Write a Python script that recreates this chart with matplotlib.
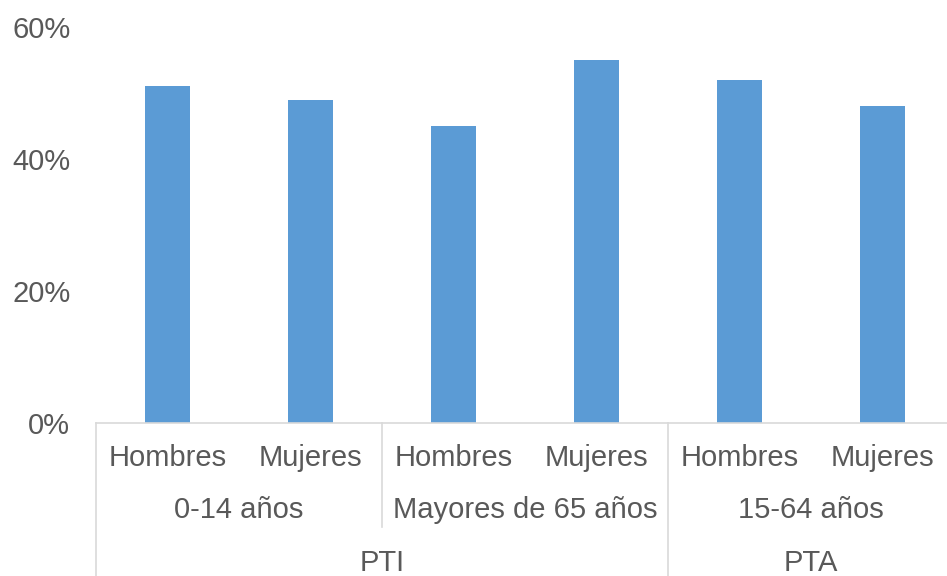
import matplotlib
matplotlib.use("Agg")
import matplotlib.pyplot as plt
from matplotlib.lines import Line2D
from matplotlib.ticker import FuncFormatter

sexes = ["Hombres", "Mujeres", "Hombres", "Mujeres", "Hombres", "Mujeres"]
age_groups = ["0-14 años", "Mayores de 65 años", "15-64 años"]
ratio_groups = ["PTI", "PTA"]
values = [51, 49, 45, 55, 52, 48]
y_ticks = [0, 20, 40, 60]

plt.rcParams["font.family"] = ["Liberation Sans", "DejaVu Sans"]
txt = "#595959"
grid = "#d9d9d9"
fs = 21

W, H = 947, 576
fig = plt.figure(figsize=(W / 100, H / 100), dpi=100)
x0, x1, yb, yt = 96, 954, 423, 27
ax = fig.add_axes([x0 / W, (H - yb) / H, (x1 - x0) / W, (yb - yt) / H])

xs = list(range(len(values)))
ax.bar(xs, values, width=0.31, color="#5b9bd5", zorder=2)
ax.set_xlim(-0.5, len(values) - 0.5)
ax.set_ylim(0, 60)
ax.set_yticks(y_ticks)
ax.yaxis.set_major_formatter(FuncFormatter(lambda v, p: f"{v:.0f}%"))
ax.tick_params(axis="y", length=0, pad=18.5, labelsize=fs, labelcolor=txt)
ax.set_xticks([])
for s in ["top", "right", "left"]:
    ax.spines[s].set_visible(False)
ax.spines["bottom"].set_color(grid)
ax.spines["bottom"].set_linewidth(1.2)

tr = ax.get_xaxis_transform()
ah = yb - yt
def ay(py):
    return (yb - py) / ah

for x, s in zip(xs, sexes):
    ax.text(x, ay(458), s, transform=tr, ha="center", va="center", fontsize=fs, color=txt)
for i, g in enumerate(age_groups):
    ax.text(2 * i + 0.5, ay(510), g, transform=tr, ha="center", va="center", fontsize=fs, color=txt)
ax.text(1.5, ay(563), ratio_groups[0], transform=tr, ha="center", va="center", fontsize=fs, color=txt)
ax.text(4.5, ay(563), ratio_groups[1], transform=tr, ha="center", va="center", fontsize=fs, color=txt)

def vline(x, y_end):
    ax.add_line(Line2D([x, x], [0, ay(y_end)], transform=tr, color=grid, lw=1.2, clip_on=False))

vline(-0.5, 580)
vline(1.5, 527)
vline(3.5, 580)
vline(5.5, 580)

fig.savefig("out.png", dpi=100)
